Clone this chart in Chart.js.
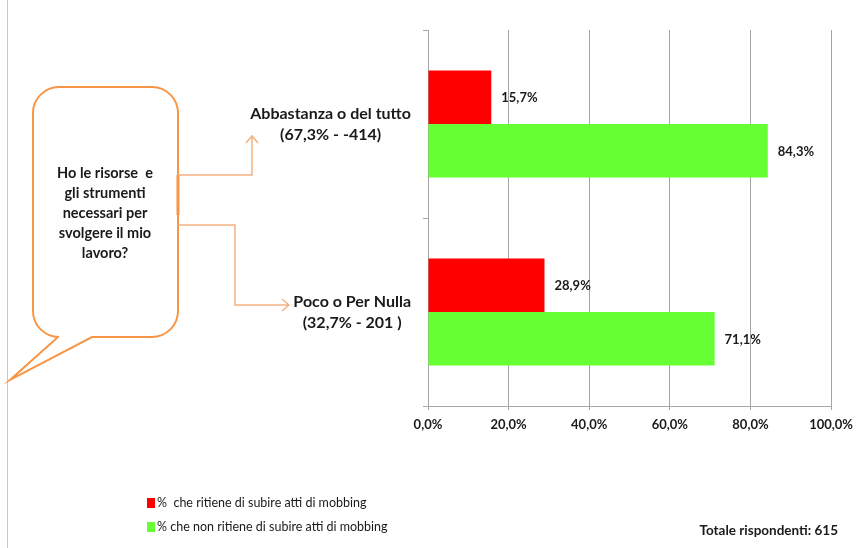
<!DOCTYPE html>
<html>
<head>
<meta charset="utf-8">
<script src="https://cdn.jsdelivr.net/npm/chart.js@4"></script>
<style>
  html, body { margin: 0; padding: 0; background: #fff; }
</style>
</head>
<body>
<canvas id="chart" width="860" height="548"></canvas>
<script>
// data
const categories = [['Abbastanza o del tutto', '(67,3% - -414)'], ['Poco o Per Nulla', '(32,7% - 201 )']];
const seriesNames = ['%  che ritiene di subire atti di mobbing', '% che non ritiene di subire atti di mobbing'];
const mobbingYes = [15.7, 28.9];
const mobbingNo = [84.3, 71.1];
const xTicks = [0, 20, 40, 60, 80, 100];
const question = ['Ho le risorse  e', 'gli strumenti', 'necessari per', 'svolgere il mio', 'lavoro?'];
const totalLabel = 'Totale rispondenti: 615';

const FONT = 'Lato, "Open Sans", sans-serif';
const fmt = v => v.toFixed(1).replace('.', ',') + '%';

const extras = {
  id: 'extras',
  beforeDraw(chart) {
    const c = chart.ctx;
    c.save();
    // left frame line
    c.strokeStyle = '#c8c8c8';
    c.lineWidth = 1;
    c.beginPath(); c.moveTo(7.5, 0); c.lineTo(7.5, 548); c.stroke();

    // speech bubble
    const l = 33, t = 87, r = 178, b = 337, rad = 26;
    c.strokeStyle = '#f79646';
    c.lineWidth = 2;
    c.beginPath();
    c.moveTo(l + rad, t);
    c.lineTo(r - rad, t);
    c.arcTo(r, t, r, t + rad, rad);
    c.lineTo(r, b - rad);
    c.arcTo(r, b, r - rad, b, rad);
    c.lineTo(92, b);
    c.lineTo(10, 380);
    c.lineTo(58, b);
    c.lineTo(l + rad, b);
    c.arcTo(l, b, l, b - rad, rad);
    c.lineTo(l, t + rad);
    c.arcTo(l, t, l + rad, t, rad);
    c.closePath();
    c.stroke();
    c.lineWidth = 3;
    c.beginPath(); c.moveTo(r, 175); c.lineTo(r, 215); c.stroke();

    // connectors
    c.strokeStyle = '#f4b183';
    c.lineWidth = 1.5;
    c.beginPath();
    c.moveTo(r, 175); c.lineTo(252, 175); c.lineTo(252, 136);
    c.moveTo(246, 143); c.lineTo(252, 136); c.lineTo(258, 143);
    c.moveTo(r, 225); c.lineTo(235, 225); c.lineTo(235, 305); c.lineTo(289, 305);
    c.moveTo(282, 299); c.lineTo(289, 305); c.lineTo(282, 311);
    c.stroke();

    // question text
    c.fillStyle = '#1a1a1a';
    c.font = 'bold 14.5px ' + FONT;
    c.textAlign = 'center';
    c.textBaseline = 'middle';
    question.forEach((s, i) => c.fillText(s, 105, 173 + i * 20));
    c.restore();
  },
  afterDraw(chart) {
    const c = chart.ctx;
    const y = chart.scales.y;
    c.save();
    c.fillStyle = '#1a1a1a';
    c.textBaseline = 'middle';

    // category labels (lines centered within a right-aligned block)
    c.font = 'bold 16px ' + FONT;
    c.textAlign = 'center';
    categories.forEach((lines, i) => {
      const w = Math.max(...lines.map(s => c.measureText(s).width));
      const cx = y.right - 17 - w / 2;
      const cy = y.getPixelForValue(i);
      lines.forEach((s, k) => c.fillText(s, cx, cy + (k - (lines.length - 1) / 2) * 21));
    });

    // data labels
    c.font = 'bold 13px ' + FONT;
    c.textAlign = 'left';
    chart.data.datasets.forEach((ds, di) => {
      chart.getDatasetMeta(di).data.forEach((bar, i) => {
        c.fillText(fmt(ds.data[i]), bar.x + 10, bar.y + 1);
      });
    });

    // legend
    c.font = '12.5px ' + FONT;
    chart.data.datasets.forEach((ds, di) => {
      const ly = 503 + di * 24;
      c.fillStyle = ds.backgroundColor;
      c.fillRect(147, ly - 5, 8, 10);
      c.fillStyle = '#1a1a1a';
      c.fillText(seriesNames[di], 157, ly);
    });

    // total
    c.font = 'bold 13.5px ' + FONT;
    c.textAlign = 'right';
    c.fillText(totalLabel, 838, 531);
    c.restore();
  }
};

new Chart(document.getElementById('chart'), {
  type: 'bar',
  data: {
    labels: categories,
    datasets: [
      { label: seriesNames[0], data: mobbingYes, backgroundColor: '#ff0000' },
      { label: seriesNames[1], data: mobbingNo, backgroundColor: '#66ff33' }
    ]
  },
  options: {
    indexAxis: 'y',
    responsive: false,
    animation: false,
    layout: { padding: { top: 30, right: 26, left: 0, bottom: 0 } },
    datasets: { bar: { categoryPercentage: 0.57, barPercentage: 1 } },
    plugins: { legend: { display: false }, tooltip: { enabled: false } },
    scales: {
      x: {
        min: 0, max: 100,
        afterBuildTicks: s => { s.ticks = xTicks.map(v => ({ value: v })); },
        afterFit: s => { s.height = 142; },
        grid: { color: '#a6a6a6', tickLength: 4 },
        border: { color: '#a6a6a6' },
        ticks: {
          padding: 7,
          color: '#1a1a1a',
          font: { family: FONT, size: 13, weight: 'bold' },
          callback: v => fmt(v)
        }
      },
      y: {
        afterFit: s => { s.width = 428; },
        grid: { drawOnChartArea: false, color: '#a6a6a6', tickLength: 5 },
        border: { color: '#a6a6a6' },
        ticks: { display: false }
      }
    }
  },
  plugins: [extras]
});
</script>
</body>
</html>
